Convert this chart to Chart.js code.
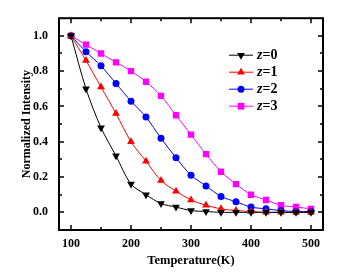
<!DOCTYPE html>
<html>
<head>
<meta charset="utf-8">
<script src="https://cdn.jsdelivr.net/npm/chart.js@4/dist/chart.umd.min.js"></script>
<style>
    html, body { margin: 0; padding: 0; background: #fff; }
    #wrap { width: 339px; height: 272px; }
</style>
</head>
<body>
<div id="wrap"><canvas id="tempChart"></canvas></div>
<script>
// Data
const temperatures = [100, 125, 150, 175, 200, 225, 250, 275, 300, 325, 350, 375, 400, 425, 450, 475, 500];
const z0 = [1.0, 0.70, 0.48, 0.32, 0.16, 0.10, 0.05, 0.03, 0.01, 0.005, 0.0, 0.0, 0.0, 0.0, 0.0, 0.0, 0.0];
const z1 = [1.0, 0.86, 0.71, 0.56, 0.40, 0.29, 0.18, 0.12, 0.07, 0.04, 0.02, 0.01, 0.005, 0.0, 0.0, 0.0, 0.0];
const z2 = [1.0, 0.91, 0.83, 0.73, 0.63, 0.54, 0.42, 0.31, 0.21, 0.15, 0.09, 0.06, 0.03, 0.02, 0.01, 0.005, 0.005];
const z3 = [1.0, 0.95, 0.90, 0.85, 0.80, 0.74, 0.66, 0.55, 0.44, 0.33, 0.23, 0.16, 0.10, 0.07, 0.04, 0.03, 0.02];
const seriesLabels = ["0", "1", "2", "3"];
const xTickLabels = [100, 200, 300, 400, 500];
const yTickLabels = [0.0, 0.2, 0.4, 0.6, 0.8, 1.0];

const colors = {
    black: "#000000",
    red: "#ff0000",
    blue: "#0000ff",
    magenta: "#ff00ff",
};

const serif = "'Liberation Serif', 'DejaVu Serif', serif";

function toPoints(values) {
    return values.map((v, i) => ({ x: temperatures[i], y: v }));
}

function makeSet(label, values, color, style, radius, rotation) {
    return {
        label: label,
        data: toPoints(values),
        borderColor: color,
        backgroundColor: color,
        borderWidth: 1,
        pointStyle: style,
        pointRadius: radius,
        pointRotation: rotation || 0,
        pointBorderWidth: 0,
        tension: 0.3,
    };
}

// Frame, inward ticks and the inside legend
const framePlugin = {
    id: "framePlugin",
    afterDraw(chart) {
        const ctx = chart.ctx;
        const area = chart.chartArea;
        const xs = chart.scales.x;
        const ys = chart.scales.y;
        ctx.save();
        ctx.strokeStyle = "#000";
        ctx.lineWidth = 2;
        ctx.strokeRect(area.left, area.top, area.right - area.left, area.bottom - area.top);

        ctx.lineWidth = 1.5;
        xs.ticks.forEach((t) => {
            const px = Math.round(xs.getPixelForValue(t.value));
            const len = xTickLabels.includes(t.value) ? 5 : 3;
            ctx.beginPath();
            ctx.moveTo(px, area.bottom);
            ctx.lineTo(px, area.bottom - len);
            ctx.moveTo(px, area.top);
            ctx.lineTo(px, area.top + len);
            ctx.stroke();
        });
        ys.ticks.forEach((t) => {
            const py = Math.round(ys.getPixelForValue(t.value));
            const major = yTickLabels.some((v) => Math.abs(v - t.value) < 1e-6);
            const len = major ? 5 : 3;
            ctx.beginPath();
            ctx.moveTo(area.left, py);
            ctx.lineTo(area.left + len, py);
            ctx.moveTo(area.right, py);
            ctx.lineTo(area.right - len, py);
            ctx.stroke();
        });

        // legend
        const lx = area.left + 170;
        let ly = area.top + 37;
        chart.data.datasets.forEach((ds, i) => {
            ctx.strokeStyle = ds.borderColor;
            ctx.fillStyle = ds.backgroundColor;
            ctx.lineWidth = 1;
            ctx.beginPath();
            ctx.moveTo(lx, ly);
            ctx.lineTo(lx + 24, ly);
            ctx.stroke();
            const mx = lx + 12;
            const r = ds.pointRadius;
            ctx.beginPath();
            if (ds.pointStyle === "circle") {
                ctx.arc(mx, ly, r, 0, Math.PI * 2);
            } else if (ds.pointStyle === "rect") {
                const s = r * 0.75;
                ctx.rect(mx - s, ly - s, s * 2, s * 2);
            } else {
                const dir = ds.pointRotation === 180 ? 1 : -1;
                ctx.moveTo(mx, ly + dir * r);
                ctx.lineTo(mx - r * 0.87, ly - dir * r * 0.5);
                ctx.lineTo(mx + r * 0.87, ly - dir * r * 0.5);
                ctx.closePath();
            }
            ctx.fill();

            ctx.fillStyle = "#000";
            ctx.textBaseline = "middle";
            ctx.textAlign = "left";
            ctx.font = "italic bold 14px " + serif;
            ctx.fillText("z", lx + 28, ly);
            const w = ctx.measureText("z").width;
            ctx.font = "bold 14px " + serif;
            ctx.fillText("=" + seriesLabels[i], lx + 28 + w, ly);
            ly += 17;
        });
        ctx.restore();
    },
};

const chartCanvas = document.getElementById("tempChart");
if (chartCanvas) {
    const chartCtx = chartCanvas.getContext("2d");
    new Chart(chartCtx, {
        type: "line",
        data: {
            datasets: [
                makeSet("z=0", z0, colors.black, "triangle", 4.5, 180),
                makeSet("z=1", z1, colors.red, "triangle", 4.5, 0),
                makeSet("z=2", z2, colors.blue, "circle", 3.5),
                makeSet("z=3", z3, colors.magenta, "rect", 4.5),
            ],
        },
        options: {
            responsive: true,
            maintainAspectRatio: false,
            animation: false,
            layout: {
                padding: { top: 17, right: 16, left: 16, bottom: 0 },
            },
            plugins: {
                legend: { display: false },
                tooltip: { enabled: false },
            },
            scales: {
                x: {
                    type: "linear",
                    min: 80,
                    max: 520,
                    afterBuildTicks(scale) {
                        scale.ticks = scale.ticks.filter((t) => t.value % 50 === 0 && t.value >= 100 && t.value <= 500);
                    },
                    afterFit(scale) {
                        scale.height = 42;
                    },
                    ticks: {
                        stepSize: 50,
                        includeBounds: false,
                        autoSkip: false,
                        maxRotation: 0,
                        padding: 7,
                        color: "#000",
                        font: { family: serif, size: 12, weight: "bold" },
                        callback: (v) => (xTickLabels.includes(v) ? String(v) : ""),
                    },
                    grid: { display: false, drawTicks: false },
                    border: { display: false },
                    title: {
                        display: true,
                        text: "Temperature(K)",
                        color: "#000",
                        padding: { top: 2 },
                        font: { family: serif, size: 12.5, weight: "bold" },
                    },
                },
                y: {
                    min: -0.1,
                    max: 1.1,
                    afterBuildTicks(scale) {
                        scale.ticks = scale.ticks.filter((t) => t.value > -0.05 && t.value < 1.05);
                    },
                    afterFit(scale) {
                        scale.width = 43;
                    },
                    ticks: {
                        stepSize: 0.1,
                        includeBounds: false,
                        autoSkip: false,
                        padding: 11,
                        color: "#000",
                        font: { family: serif, size: 12, weight: "bold" },
                        callback: (v) => {
                            const hit = yTickLabels.find((t) => Math.abs(t - v) < 1e-6);
                            return hit !== undefined ? hit.toFixed(1) : "";
                        },
                    },
                    grid: { display: false, drawTicks: false },
                    border: { display: false },
                    title: {
                        display: true,
                        text: "Normalized Intensity",
                        color: "#000",
                        padding: { top: 4, bottom: 4 },
                        font: { family: serif, size: 12, weight: "bold" },
                    },
                },
            },
        },
        plugins: [framePlugin],
    });
} else {
    console.error("tempChart element not found");
}
</script>
</body>
</html>
